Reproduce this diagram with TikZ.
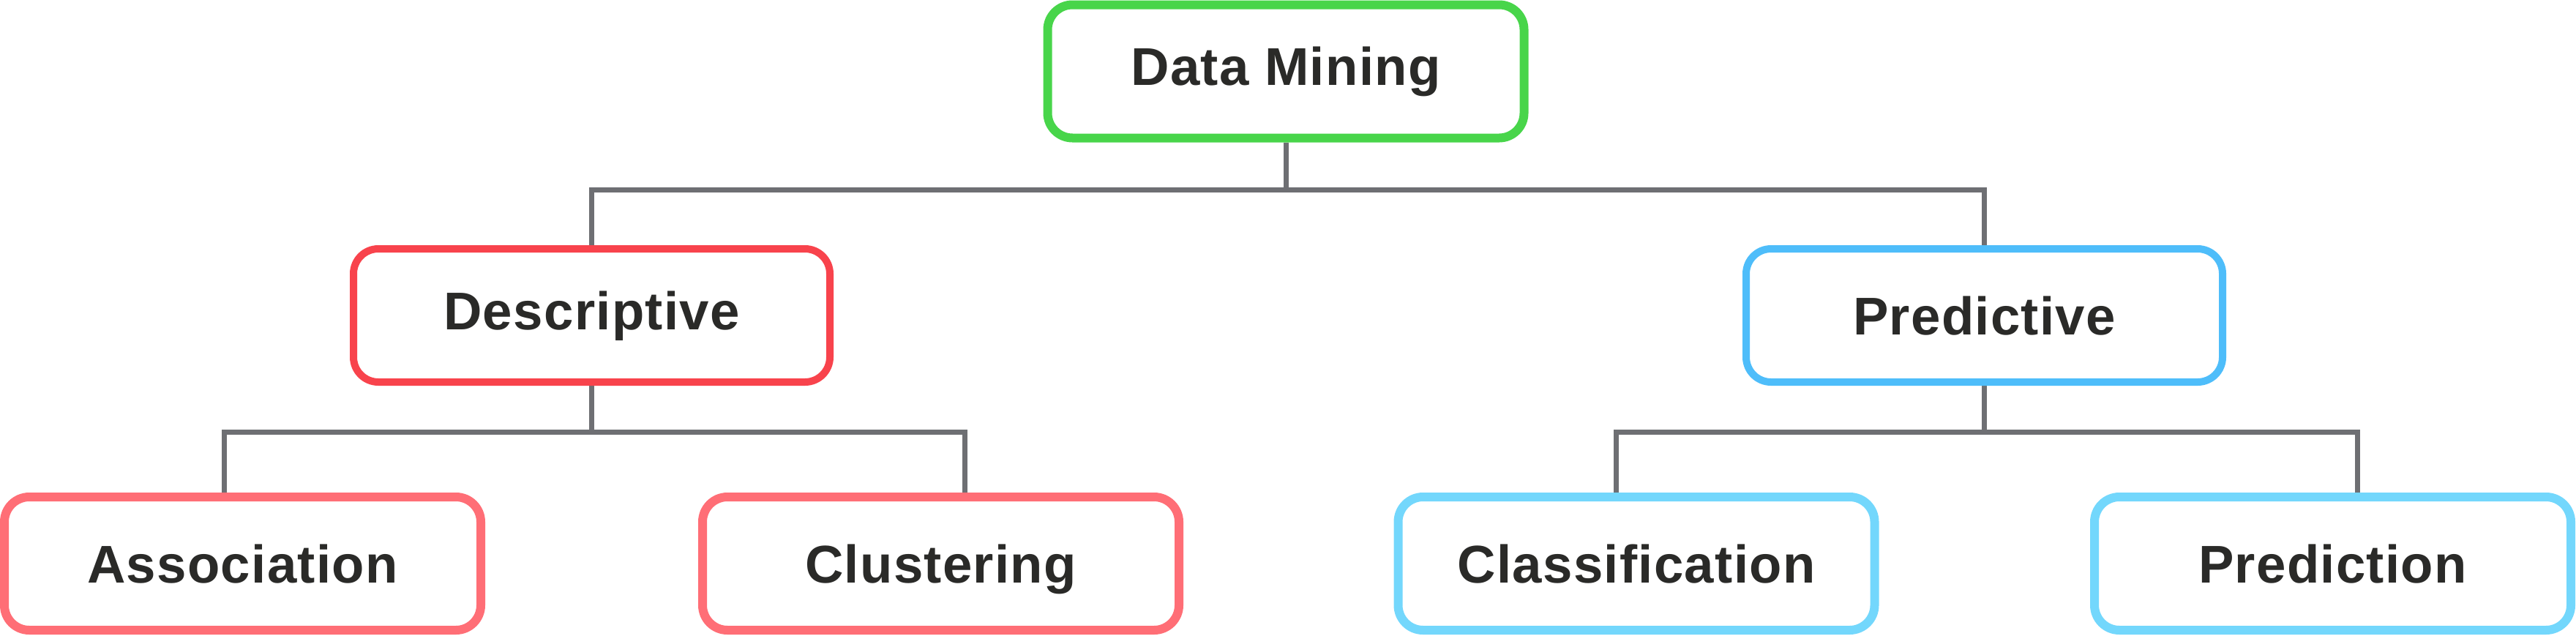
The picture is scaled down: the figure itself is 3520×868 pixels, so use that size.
\documentclass[tikz,border=0pt]{standalone}
\usepackage{fontspec}
\setmainfont{Liberation Sans}
\newfontfamily\boxfont[LetterSpace=1.8]{Liberation Sans}
\usetikzlibrary{backgrounds}
\definecolor{dmgreen}{HTML}{48D54A}
\definecolor{descred}{HTML}{F8434C}
\definecolor{leafred}{HTML}{FF6E76}
\definecolor{predblue}{HTML}{4EBDFA}
\definecolor{leafblue}{HTML}{73D7FC}
\definecolor{conngray}{HTML}{6E6F73}
\definecolor{textdark}{HTML}{2A2A28}
\begin{document}
\begin{tikzpicture}[x=0.25pt,y=-0.25pt,
  box/.style={draw, fill=white, rounded corners=8.5pt, inner sep=0pt,
    minimum width=162.75pt, minimum height=45.5pt, text=textdark,
    font=\boxfont\fontsize{18.15}{20}\selectfont\bfseries,
    text height=13pt, text depth=0pt},
  raised/.style={text depth=3.5pt},
  conn/.style={draw=conngray, line width=1.75pt}]
\useasboundingbox (0,0) rectangle (3520,868);
\node[box, draw=dmgreen, line width=3pt, raised] (dm) at (1757,97.5) {Data Mining};
\node[box, draw=descred, line width=2.5pt, raised] (desc) at (808.5,431) {Descriptive};
\node[box, draw=predblue, line width=2.5pt] (pred) at (2711.5,431) {Predictive};
\node[box, draw=leafred, line width=3pt] (assoc) at (331.5,770) {Association};
\node[box, draw=leafred, line width=3pt] (clus) at (1285.5,770) {Clustering};
\node[box, draw=leafblue, line width=3pt] (class) at (2236,770) {Classification};
\node[box, draw=leafblue, line width=3pt] (predn) at (3187.5,770) {Prediction};
\coordinate (t1) at (808,259);
\coordinate (l1) at (306,590);
\coordinate (l2) at (1318,590);
\coordinate (r1) at (2208,590);
\coordinate (r2) at (3221,590);
\begin{scope}[on background layer]
\draw[conn] (dm.south) -- (dm.south |- t1);
\draw[conn] (desc.north) -- (desc.north |- t1) -- (pred.north |- t1) -- (pred.north);
\draw[conn] (desc.south) -- (desc.south |- l1);
\draw[conn] (l1 |- assoc.north) -- (l1) -- (l2) -- (l2 |- clus.north);
\draw[conn] (pred.south) -- (pred.south |- r1);
\draw[conn] (r1 |- class.north) -- (r1) -- (r2) -- (r2 |- predn.north);
\end{scope}
\end{tikzpicture}
\end{document}
